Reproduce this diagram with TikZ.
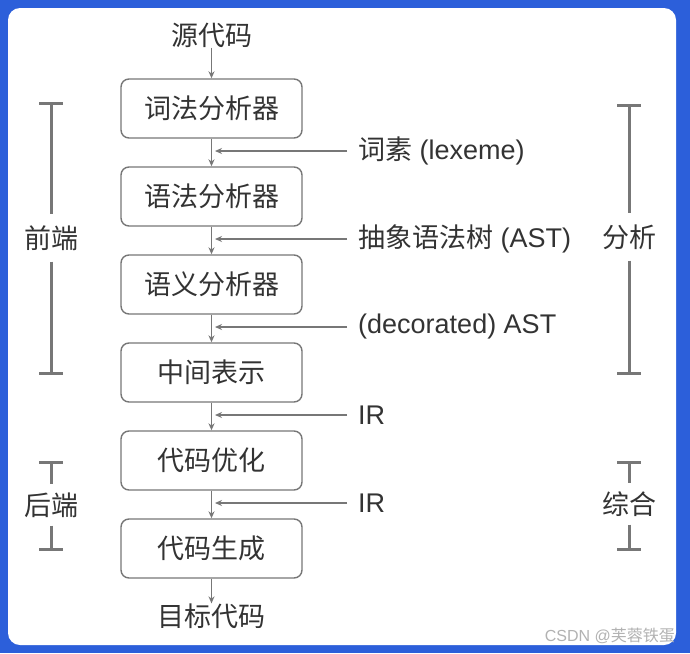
\documentclass[tikz,border=0pt]{standalone}
\usepackage{fontspec}
\setmainfont{Liberation Sans}
\newfontfamily\cjk{Noto Sans CJK SC}
\usetikzlibrary{arrows.meta}
\definecolor{frameblue}{RGB}{44,95,218}
\definecolor{txt}{HTML}{333333}
\definecolor{ln}{HTML}{777777}
\begin{document}
\begin{tikzpicture}[x=1pt,y=-1pt,
  stage/.style={draw=ln, line width=1.4pt, rounded corners=8pt, minimum width=181pt, minimum height=59pt, inner sep=0pt, text=txt, font=\cjk\fontsize{27}{30}\selectfont},
  plain/.style={text=txt, inner sep=0pt, font=\fontsize{27}{30}\selectfont},
  cjklabel/.style={text=txt, inner sep=0pt, font=\cjk\fontsize{27}{30}\selectfont},
  flow/.style={draw=ln, line width=1.4pt, -{Stealth[length=7pt,width=6pt]}},
  brk/.style={draw=ln, line width=3pt}]
\fill[frameblue] (0,0) rectangle (690,653);
\fill[white, rounded corners=12pt] (8,8) rectangle (676,645);
\useasboundingbox (0,0) rectangle (690,653);

% main chain
\node[cjklabel] (src) at (211.5,35) {源代码};
\node[stage] (b1) at (211.5,108.5) {词法分析器};
\node[stage] (b2) at (211.5,196.5) {语法分析器};
\node[stage] (b3) at (211.5,284.5) {语义分析器};
\node[stage] (b4) at (211.5,372.5) {中间表示};
\node[stage] (b5) at (211.5,460.5) {代码优化};
\node[stage] (b6) at (211.5,548.5) {代码生成};
\node[cjklabel] (tgt) at (211.5,616) {目标代码};

\draw[flow] (src) -- (b1);
\draw[flow] (b1) -- (b2);
\draw[flow] (b2) -- (b3);
\draw[flow] (b3) -- (b4);
\draw[flow] (b4) -- (b5);
\draw[flow] (b5) -- (b6);
\draw[flow] (b6) -- (tgt);

% side inputs
\node[plain, anchor=west] (l1) at (358,151) {{\cjk 词素} (lexeme)};
\node[plain, anchor=west] (l2) at (358,239) {{\cjk 抽象语法树} (AST)};
\node[plain, anchor=west] (l3) at (358,327) {(decorated) AST};
\node[plain, anchor=west] (l4) at (358,415) {IR};
\node[plain, anchor=west] (l5) at (358,503) {IR};
\coordinate (j1) at (215,151);
\coordinate (j2) at (215,239);
\coordinate (j3) at (215,327);
\coordinate (j4) at (215,415);
\coordinate (j5) at (215,503);
\draw[flow] ([xshift=-11pt]l1.west) -- (j1);
\draw[flow] ([xshift=-11pt]l2.west) -- (j2);
\draw[flow] ([xshift=-11pt]l3.west) -- (j3);
\draw[flow] ([xshift=-11pt]l4.west) -- (j4);
\draw[flow] ([xshift=-11pt]l5.west) -- (j5);

% brackets
\node[cjklabel, inner ysep=11pt] (fe) at (51,238) {前端};
\coordinate (fet) at (51,103); \coordinate (feb) at (51,373);
\draw[brk] (fet) -- (fe.north) (fe.south) -- (feb);
\draw[brk] ([xshift=-12pt]fet) -- ([xshift=12pt]fet) ([xshift=-12pt]feb) -- ([xshift=12pt]feb);

\node[cjklabel, inner ysep=8pt] (be) at (51,505) {后端};
\coordinate (bet) at (51,462); \coordinate (beb) at (51,549);
\draw[brk] (bet) -- (be.north) (be.south) -- (beb);
\draw[brk] ([xshift=-12pt]bet) -- ([xshift=12pt]bet) ([xshift=-12pt]beb) -- ([xshift=12pt]beb);

\node[cjklabel, inner ysep=11pt] (an) at (629,237) {分析};
\coordinate (ant) at (629,105); \coordinate (anb) at (629,373);
\draw[brk] (ant) -- (an.north) (an.south) -- (anb);
\draw[brk] ([xshift=-12pt]ant) -- ([xshift=12pt]ant) ([xshift=-12pt]anb) -- ([xshift=12pt]anb);

\node[cjklabel, inner ysep=8pt] (sy) at (629,504) {综合};
\coordinate (syt) at (629,462); \coordinate (syb) at (629,549);
\draw[brk] (syt) -- (sy.north) (sy.south) -- (syb);
\draw[brk] ([xshift=-12pt]syt) -- ([xshift=12pt]syt) ([xshift=-12pt]syb) -- ([xshift=12pt]syb);

% watermark
\node[anchor=east, inner sep=0pt, text=black!30, font=\fontsize{16}{18}\selectfont] (wm) at (675,636) {CSDN @{\cjk 芙蓉铁蛋}};
\end{tikzpicture}
\end{document}
